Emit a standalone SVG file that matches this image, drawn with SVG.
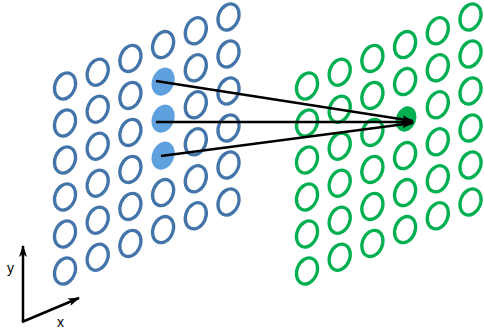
<svg xmlns="http://www.w3.org/2000/svg" xmlns:xlink="http://www.w3.org/1999/xlink" width="484" height="332" viewBox="0 0 484 332">
  <style>
    .blue { fill: none; stroke: #4475AA; stroke-width: 3.3; }
    .green { fill: none; stroke: #00B050; stroke-width: 3.3; }
    .blue-on { fill: #5FA0DE; stroke: none; }
    .green-on { fill: #00B050; stroke: none; }
    .link { stroke: #000; stroke-width: 2.5; fill: none; }
    .axis { stroke: #000; stroke-width: 2.5; fill: none; }
    .lbl { font-family: "Liberation Sans", Arial, sans-serif; font-size: 14px; fill: #000; }
  </style>
  <defs>
    <!-- tilted neuron ring, centred at origin -->
    <ellipse id="ring" rx="10" ry="13.5" transform="rotate(22)"/>
    <ellipse id="spot" rx="11" ry="14.5" transform="rotate(22)"/>
    <marker id="head" viewBox="0 0 12 8" refX="11" refY="4" markerWidth="12" markerHeight="8" markerUnits="userSpaceOnUse" orient="auto">
      <path d="M0,0 L12,4 L0,8 L3,4 Z" fill="#000"/>
    </marker>
  </defs>

  <!-- input layer (blue), columns step +32.7 in x and -13.8 in y, rows step +37 -->
  <g id="layer-in">
    <g id="in-c1">
      <use class="blue" href="#ring" x="65" y="86"/>
      <use class="blue" href="#ring" x="65" y="123"/>
      <use class="blue" href="#ring" x="65" y="160"/>
      <use class="blue" href="#ring" x="65" y="197"/>
      <use class="blue" href="#ring" x="65" y="234"/>
      <use class="blue" href="#ring" x="65" y="271"/>
    </g>
    <g id="in-c2">
      <use class="blue" href="#ring" x="97.7" y="72.2"/>
      <use class="blue" href="#ring" x="97.7" y="109.2"/>
      <use class="blue" href="#ring" x="97.7" y="146.2"/>
      <use class="blue" href="#ring" x="97.7" y="183.2"/>
      <use class="blue" href="#ring" x="97.7" y="220.2"/>
      <use class="blue" href="#ring" x="97.7" y="257.2"/>
    </g>
    <g id="in-c3">
      <use class="blue" href="#ring" x="130.4" y="58.4"/>
      <use class="blue" href="#ring" x="130.4" y="95.4"/>
      <use class="blue" href="#ring" x="130.4" y="132.4"/>
      <use class="blue" href="#ring" x="130.4" y="169.4"/>
      <use class="blue" href="#ring" x="130.4" y="206.4"/>
      <use class="blue" href="#ring" x="130.4" y="243.4"/>
    </g>
    <g id="in-c4">
      <use class="blue" href="#ring" x="163.1" y="44.6"/>
      <use class="blue" href="#ring" x="163.1" y="192.6"/>
      <use class="blue" href="#ring" x="163.1" y="229.6"/>
    </g>
    <g id="in-c5">
      <use class="blue" href="#ring" x="195.8" y="30.8"/>
      <use class="blue" href="#ring" x="195.8" y="67.8"/>
      <use class="blue" href="#ring" x="195.8" y="104.8"/>
      <use class="blue" href="#ring" x="195.8" y="141.8"/>
      <use class="blue" href="#ring" x="195.8" y="178.8"/>
      <use class="blue" href="#ring" x="195.8" y="215.8"/>
    </g>
    <g id="in-c6">
      <use class="blue" href="#ring" x="228.5" y="17"/>
      <use class="blue" href="#ring" x="228.5" y="54"/>
      <use class="blue" href="#ring" x="228.5" y="91"/>
      <use class="blue" href="#ring" x="228.5" y="128"/>
      <use class="blue" href="#ring" x="228.5" y="165"/>
      <use class="blue" href="#ring" x="228.5" y="202"/>
    </g>
    <!-- active input units -->
    <g id="in-active-1"><use class="blue-on" href="#spot" x="163.1" y="81.6"/></g>
    <g id="in-active-2"><use class="blue-on" href="#spot" x="163.1" y="118.6"/></g>
    <g id="in-active-3"><use class="blue-on" href="#spot" x="163.1" y="155.6"/></g>
  </g>

  <!-- output layer (green), same lattice shifted right by 242 -->
  <g id="layer-out">
    <g id="out-c1">
      <use class="green" href="#ring" x="307" y="86"/>
      <use class="green" href="#ring" x="307" y="123"/>
      <use class="green" href="#ring" x="307" y="160"/>
      <use class="green" href="#ring" x="307" y="197"/>
      <use class="green" href="#ring" x="307" y="234"/>
      <use class="green" href="#ring" x="307" y="271"/>
    </g>
    <g id="out-c2">
      <use class="green" href="#ring" x="339.7" y="72.2"/>
      <use class="green" href="#ring" x="339.7" y="109.2"/>
      <use class="green" href="#ring" x="339.7" y="146.2"/>
      <use class="green" href="#ring" x="339.7" y="183.2"/>
      <use class="green" href="#ring" x="339.7" y="220.2"/>
      <use class="green" href="#ring" x="339.7" y="257.2"/>
    </g>
    <g id="out-c3">
      <use class="green" href="#ring" x="372.4" y="58.4"/>
      <use class="green" href="#ring" x="372.4" y="95.4"/>
      <use class="green" href="#ring" x="372.4" y="132.4"/>
      <use class="green" href="#ring" x="372.4" y="169.4"/>
      <use class="green" href="#ring" x="372.4" y="206.4"/>
      <use class="green" href="#ring" x="372.4" y="243.4"/>
    </g>
    <g id="out-c4">
      <use class="green" href="#ring" x="405.1" y="44.6"/>
      <use class="green" href="#ring" x="405.1" y="81.6"/>
      <use class="green" href="#ring" x="405.1" y="155.6"/>
      <use class="green" href="#ring" x="405.1" y="192.6"/>
      <use class="green" href="#ring" x="405.1" y="229.6"/>
    </g>
    <g id="out-c5">
      <use class="green" href="#ring" x="437.8" y="30.8"/>
      <use class="green" href="#ring" x="437.8" y="67.8"/>
      <use class="green" href="#ring" x="437.8" y="104.8"/>
      <use class="green" href="#ring" x="437.8" y="141.8"/>
      <use class="green" href="#ring" x="437.8" y="178.8"/>
      <use class="green" href="#ring" x="437.8" y="215.8"/>
    </g>
    <g id="out-c6">
      <use class="green" href="#ring" x="470.5" y="17"/>
      <use class="green" href="#ring" x="470.5" y="54"/>
      <use class="green" href="#ring" x="470.5" y="91"/>
      <use class="green" href="#ring" x="470.5" y="128"/>
      <use class="green" href="#ring" x="470.5" y="165"/>
      <use class="green" href="#ring" x="470.5" y="202"/>
    </g>
    <!-- target unit -->
    <g id="out-active"><ellipse class="green-on" cx="0" cy="0" rx="10" ry="13" transform="translate(406 119) rotate(22)"/></g>
  </g>

  <!-- connections from active inputs to the target unit -->
  <g id="connectors">
    <line class="link" x1="156" y1="81" x2="413" y2="121" marker-end="url(#head)"/>
    <line class="link" x1="156" y1="122" x2="413" y2="122" marker-end="url(#head)"/>
    <line class="link" x1="161" y1="156" x2="413" y2="123" marker-end="url(#head)"/>
  </g>

  <!-- coordinate axes -->
  <g id="axes">
    <line class="axis" x1="23" y1="322" x2="23" y2="246" marker-end="url(#head)"/>
    <line class="axis" x1="22" y1="322" x2="79" y2="298" marker-end="url(#head)"/>
    <text class="lbl" x="7" y="273">y</text>
    <text class="lbl" x="57" y="327">x</text>
  </g>
</svg>
